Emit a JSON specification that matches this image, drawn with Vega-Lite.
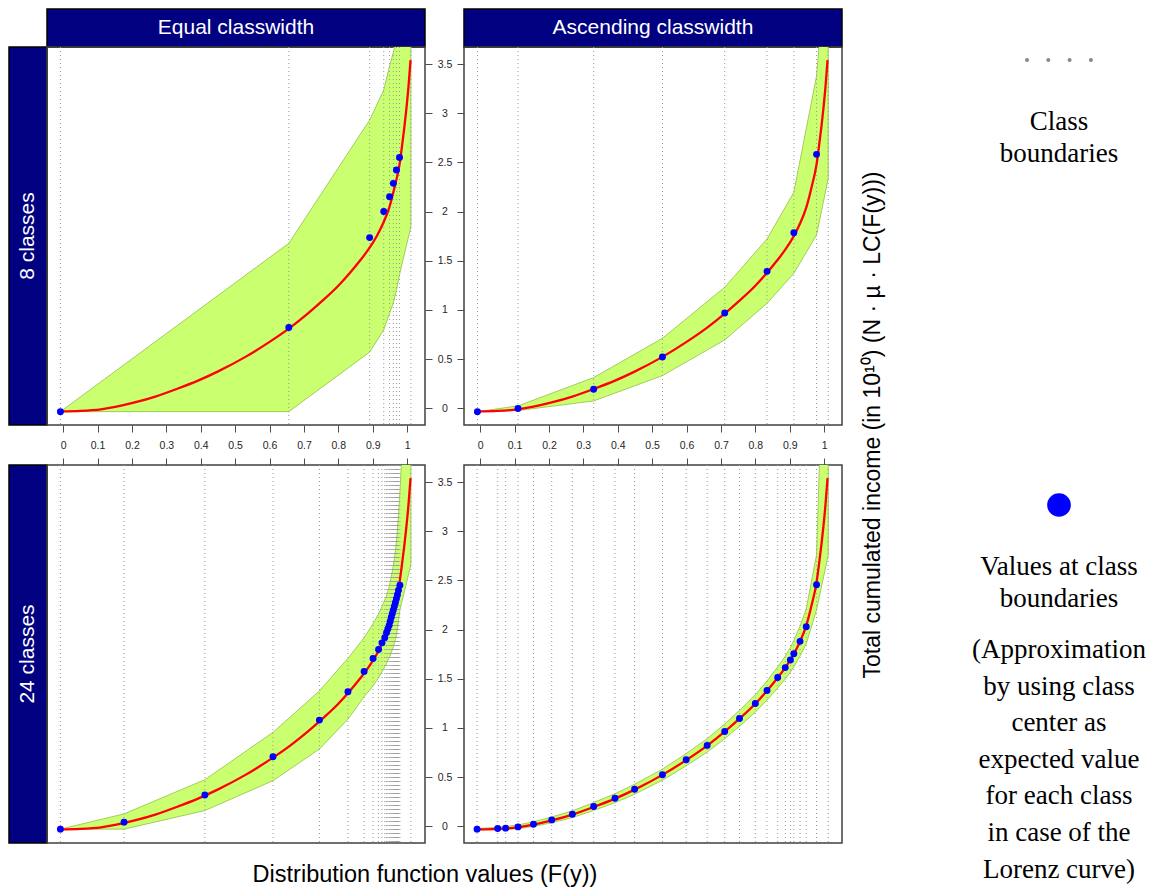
{
"$schema": "https://vega.github.io/schema/vega-lite/v6.json",
"background": "white",
"padding": {"left": 8, "top": 8, "right": 0, "bottom": 0},
"columns": 6,
"spacing": 0,
"bounds": "flush",
"config": {"view": {"stroke": null}, "font": "Liberation Sans", "title": {"fontWeight": "normal", "color": "#000000"}},
"datasets": {
"curve": [
{"x":-0.008,"y":-0.033},{"x":0.05,"y":-0.028},{"x":0.11,"y":-0.012},{"x":0.155,"y":0.015},{"x":0.208,"y":0.058},{"x":0.268,"y":0.118},{"x":0.33,"y":0.195},{"x":0.392,"y":0.28},{"x":0.449,"y":0.372},{"x":0.53,"y":0.522},{"x":0.599,"y":0.672},{"x":0.66,"y":0.82},{"x":0.711,"y":0.962},{"x":0.754,"y":1.094},{"x":0.8,"y":1.246},{"x":0.834,"y":1.378},{"x":0.865,"y":1.51},{"x":0.887,"y":1.612},{"x":0.912,"y":1.752},{"x":0.93,"y":1.878},{"x":0.948,"y":2.04},{"x":0.963,"y":2.24},{"x":0.978,"y":2.48},{"x":0.985,"y":2.66},{"x":0.992,"y":2.86},{"x":0.998,"y":3.05},{"x":1.004,"y":3.27},{"x":1.01,"y":3.54}
],
"bounds": [
{"panel":"EQ8","x":-0.008},{"panel":"EQ8","x":0.656},{"panel":"EQ8","x":0.891},{"panel":"EQ8","x":0.932},{"panel":"EQ8","x":0.949},{"panel":"EQ8","x":0.96},{"panel":"EQ8","x":0.969},{"panel":"EQ8","x":0.978},{"panel":"EQ8","x":1.011},
{"panel":"AS8","x":-0.008},{"panel":"AS8","x":0.11},{"panel":"AS8","x":0.33},{"panel":"AS8","x":0.53},{"panel":"AS8","x":0.711},{"panel":"AS8","x":0.834},{"panel":"AS8","x":0.912},{"panel":"AS8","x":0.978},{"panel":"AS8","x":1.012},
{"panel":"EQ24","x":-0.008},{"panel":"EQ24","x":0.177},{"panel":"EQ24","x":0.412},{"panel":"EQ24","x":0.61},{"panel":"EQ24","x":0.745},{"panel":"EQ24","x":0.828},{"panel":"EQ24","x":0.875},{"panel":"EQ24","x":0.901},{"panel":"EQ24","x":0.917},{"panel":"EQ24","x":0.927},{"panel":"EQ24","x":0.935},{"panel":"EQ24","x":0.94},{"panel":"EQ24","x":0.944},{"panel":"EQ24","x":0.948},{"panel":"EQ24","x":0.951},{"panel":"EQ24","x":0.954},{"panel":"EQ24","x":0.957},{"panel":"EQ24","x":0.96},{"panel":"EQ24","x":0.963},{"panel":"EQ24","x":0.966},{"panel":"EQ24","x":0.969},{"panel":"EQ24","x":0.972},{"panel":"EQ24","x":0.975},{"panel":"EQ24","x":0.979},{"panel":"EQ24","x":1.011},
{"panel":"AS24","x":-0.009},{"panel":"AS24","x":0.051},{"panel":"AS24","x":0.074},{"panel":"AS24","x":0.11},{"panel":"AS24","x":0.155},{"panel":"AS24","x":0.208},{"panel":"AS24","x":0.268},{"panel":"AS24","x":0.33},{"panel":"AS24","x":0.392},{"panel":"AS24","x":0.449},{"panel":"AS24","x":0.53},{"panel":"AS24","x":0.599},{"panel":"AS24","x":0.66},{"panel":"AS24","x":0.711},{"panel":"AS24","x":0.754},{"panel":"AS24","x":0.8},{"panel":"AS24","x":0.834},{"panel":"AS24","x":0.865},{"panel":"AS24","x":0.887},{"panel":"AS24","x":0.902},{"panel":"AS24","x":0.912},{"panel":"AS24","x":0.93},{"panel":"AS24","x":0.948},{"panel":"AS24","x":0.978},{"panel":"AS24","x":1.012}
],
"points": [
{"panel":"EQ8","x":-0.008,"y":-0.035},{"panel":"EQ8","x":0.656,"y":0.82},{"panel":"EQ8","x":0.891,"y":1.735},{"panel":"EQ8","x":0.932,"y":2.0},{"panel":"EQ8","x":0.949,"y":2.151},{"panel":"EQ8","x":0.96,"y":2.287},{"panel":"EQ8","x":0.969,"y":2.422},{"panel":"EQ8","x":0.978,"y":2.551},
{"panel":"AS8","x":-0.008,"y":-0.035},{"panel":"AS8","x":0.11,"y":-0.004},{"panel":"AS8","x":0.33,"y":0.193},{"panel":"AS8","x":0.53,"y":0.521},{"panel":"AS8","x":0.711,"y":0.969},{"panel":"AS8","x":0.834,"y":1.392},{"panel":"AS8","x":0.912,"y":1.785},{"panel":"AS8","x":0.978,"y":2.582},
{"panel":"EQ24","x":-0.008,"y":-0.03},{"panel":"EQ24","x":0.177,"y":0.041},{"panel":"EQ24","x":0.412,"y":0.318},{"panel":"EQ24","x":0.61,"y":0.707},{"panel":"EQ24","x":0.745,"y":1.079},{"panel":"EQ24","x":0.828,"y":1.368},{"panel":"EQ24","x":0.875,"y":1.573},{"panel":"EQ24","x":0.901,"y":1.706},{"panel":"EQ24","x":0.917,"y":1.798},{"panel":"EQ24","x":0.927,"y":1.865},{"panel":"EQ24","x":0.935,"y":1.918},{"panel":"EQ24","x":0.94,"y":1.968},{"panel":"EQ24","x":0.944,"y":2.005},{"panel":"EQ24","x":0.948,"y":2.045},{"panel":"EQ24","x":0.951,"y":2.085},{"panel":"EQ24","x":0.954,"y":2.125},{"panel":"EQ24","x":0.957,"y":2.163},{"panel":"EQ24","x":0.96,"y":2.2},{"panel":"EQ24","x":0.963,"y":2.238},{"panel":"EQ24","x":0.966,"y":2.275},{"panel":"EQ24","x":0.969,"y":2.315},{"panel":"EQ24","x":0.972,"y":2.355},{"panel":"EQ24","x":0.975,"y":2.4},{"panel":"EQ24","x":0.979,"y":2.452},
{"panel":"AS24","x":-0.009,"y":-0.03},{"panel":"AS24","x":0.051,"y":-0.024},{"panel":"AS24","x":0.074,"y":-0.02},{"panel":"AS24","x":0.11,"y":-0.007},{"panel":"AS24","x":0.155,"y":0.02},{"panel":"AS24","x":0.208,"y":0.064},{"panel":"AS24","x":0.268,"y":0.122},{"panel":"AS24","x":0.33,"y":0.2},{"panel":"AS24","x":0.392,"y":0.284},{"panel":"AS24","x":0.449,"y":0.375},{"panel":"AS24","x":0.53,"y":0.524},{"panel":"AS24","x":0.599,"y":0.676},{"panel":"AS24","x":0.66,"y":0.822},{"panel":"AS24","x":0.711,"y":0.964},{"panel":"AS24","x":0.754,"y":1.096},{"panel":"AS24","x":0.8,"y":1.248},{"panel":"AS24","x":0.834,"y":1.38},{"panel":"AS24","x":0.865,"y":1.512},{"panel":"AS24","x":0.887,"y":1.613},{"panel":"AS24","x":0.902,"y":1.691},{"panel":"AS24","x":0.912,"y":1.755},{"panel":"AS24","x":0.93,"y":1.88},{"panel":"AS24","x":0.948,"y":2.029},{"panel":"AS24","x":0.978,"y":2.455}
],
"band": [
{"panel":"EQ8","x":-0.008,"lo":-0.035,"hi":-0.035},{"panel":"EQ8","x":0.656,"lo":-0.035,"hi":1.677},{"panel":"EQ8","x":0.891,"lo":0.57,"hi":2.93},{"panel":"EQ8","x":0.932,"lo":0.796,"hi":3.236},{"panel":"EQ8","x":0.949,"lo":0.966,"hi":3.48},{"panel":"EQ8","x":0.96,"lo":1.07,"hi":3.62},{"panel":"EQ8","x":0.969,"lo":1.2,"hi":3.75},{"panel":"EQ8","x":0.978,"lo":1.36,"hi":3.9},{"panel":"EQ8","x":1.011,"lo":1.846,"hi":5.0},
{"panel":"AS8","x":-0.008,"lo":-0.035,"hi":-0.035},{"panel":"AS8","x":0.11,"lo":-0.024,"hi":0.023},{"panel":"AS8","x":0.33,"lo":0.074,"hi":0.311},{"panel":"AS8","x":0.53,"lo":0.332,"hi":0.711},{"panel":"AS8","x":0.711,"lo":0.694,"hi":1.23},{"panel":"AS8","x":0.834,"lo":1.067,"hi":1.721},{"panel":"AS8","x":0.912,"lo":1.372,"hi":2.196},{"panel":"AS8","x":0.978,"lo":1.762,"hi":3.378},{"panel":"AS8","x":1.012,"lo":2.34,"hi":4.8},
{"panel":"EQ24","x":-0.008,"lo":-0.03,"hi":-0.03},{"panel":"EQ24","x":0.177,"lo":-0.03,"hi":0.125},{"panel":"EQ24","x":0.412,"lo":0.159,"hi":0.473},{"panel":"EQ24","x":0.61,"lo":0.463,"hi":0.954},{"panel":"EQ24","x":0.745,"lo":0.785,"hi":1.376},{"panel":"EQ24","x":0.828,"lo":1.089,"hi":1.708},{"panel":"EQ24","x":0.875,"lo":1.316,"hi":1.917},{"panel":"EQ24","x":0.901,"lo":1.427,"hi":2.06},{"panel":"EQ24","x":0.917,"lo":1.51,"hi":2.16},{"panel":"EQ24","x":0.927,"lo":1.57,"hi":2.235},{"panel":"EQ24","x":0.935,"lo":1.62,"hi":2.3},{"panel":"EQ24","x":0.94,"lo":1.655,"hi":2.345},{"panel":"EQ24","x":0.944,"lo":1.685,"hi":2.39},{"panel":"EQ24","x":0.948,"lo":1.715,"hi":2.44},{"panel":"EQ24","x":0.951,"lo":1.74,"hi":2.485},{"panel":"EQ24","x":0.954,"lo":1.765,"hi":2.535},{"panel":"EQ24","x":0.957,"lo":1.795,"hi":2.59},{"panel":"EQ24","x":0.96,"lo":1.825,"hi":2.65},{"panel":"EQ24","x":0.963,"lo":1.86,"hi":2.72},{"panel":"EQ24","x":0.966,"lo":1.9,"hi":2.8},{"panel":"EQ24","x":0.969,"lo":1.95,"hi":2.9},{"panel":"EQ24","x":0.972,"lo":2.01,"hi":3.02},{"panel":"EQ24","x":0.975,"lo":2.09,"hi":3.17},{"panel":"EQ24","x":0.979,"lo":2.2,"hi":3.4},{"panel":"EQ24","x":1.011,"lo":2.66,"hi":5.5},
{"panel":"AS24","x":-0.009,"lo":-0.035,"hi":-0.025},{"panel":"AS24","x":0.051,"lo":-0.036,"hi":-0.01},{"panel":"AS24","x":0.074,"lo":-0.034,"hi":-0.004},{"panel":"AS24","x":0.11,"lo":-0.025,"hi":0.012},{"panel":"AS24","x":0.155,"lo":-0.003,"hi":0.045},{"panel":"AS24","x":0.208,"lo":0.035,"hi":0.093},{"panel":"AS24","x":0.268,"lo":0.088,"hi":0.156},{"panel":"AS24","x":0.33,"lo":0.16,"hi":0.24},{"panel":"AS24","x":0.392,"lo":0.239,"hi":0.33},{"panel":"AS24","x":0.449,"lo":0.325,"hi":0.426},{"panel":"AS24","x":0.53,"lo":0.468,"hi":0.58},{"panel":"AS24","x":0.599,"lo":0.614,"hi":0.738},{"panel":"AS24","x":0.66,"lo":0.754,"hi":0.89},{"panel":"AS24","x":0.711,"lo":0.89,"hi":1.04},{"panel":"AS24","x":0.754,"lo":1.016,"hi":1.178},{"panel":"AS24","x":0.8,"lo":1.16,"hi":1.338},{"panel":"AS24","x":0.834,"lo":1.283,"hi":1.478},{"panel":"AS24","x":0.865,"lo":1.405,"hi":1.62},{"panel":"AS24","x":0.887,"lo":1.497,"hi":1.73},{"panel":"AS24","x":0.902,"lo":1.567,"hi":1.817},{"panel":"AS24","x":0.912,"lo":1.622,"hi":1.89},{"panel":"AS24","x":0.93,"lo":1.73,"hi":2.035},{"panel":"AS24","x":0.948,"lo":1.855,"hi":2.21},{"panel":"AS24","x":0.978,"lo":2.2,"hi":2.76},{"panel":"AS24","x":1.012,"lo":2.76,"hi":6.5}
]
},
"concat": [
{"width": 1, "height": 1, "data": {"values": []}, "mark": "point"},
{"width": 378, "height": 38, "view": {"fill": "#000080", "stroke": "#000000", "strokeWidth": 1.5}, "data": {"values": [{"label": "Equal classwidth"}]}, "mark": {"type": "text", "color": "#ffffff", "fontSize": 21, "font": "Liberation Sans"}, "encoding": {"text": {"field": "label", "type": "nominal"}}},
{"width": 39, "height": 1, "data": {"values": []}, "mark": "point"},
{"width": 378, "height": 38, "view": {"fill": "#000080", "stroke": "#000000", "strokeWidth": 1.5}, "data": {"values": [{"label": "Ascending classwidth"}]}, "mark": {"type": "text", "color": "#ffffff", "fontSize": 21, "font": "Liberation Sans"}, "encoding": {"text": {"field": "label", "type": "nominal"}}},
{"width": 117, "height": 1, "data": {"values": []}, "mark": "point"},
{"width": 1, "height": 1, "data": {"values": []}, "mark": "point"},

{"width": 38, "height": 378, "view": {"fill": "#000080", "stroke": "#000000", "strokeWidth": 1.5}, "data": {"values": [{"label": "8 classes"}]}, "mark": {"type": "text", "color": "#ffffff", "fontSize": 21, "angle": 270, "font": "Liberation Sans"}, "encoding": {"text": {"field": "label", "type": "nominal"}}},
{"width": 378, "height": 378, "view": {"stroke": "#404040", "strokeWidth": 1.5},
 "encoding": {"x": {"field": "x", "type": "quantitative", "scale": {"domain": [-0.047, 1.052], "nice": false, "zero": false}, "axis": {"orient": "bottom", "values": [0,0.1,0.2,0.3,0.4,0.5,0.6,0.7,0.8,0.9,1], "format": "~g", "title": null, "grid": false, "domain": false, "ticks": true, "tickSize": 7, "tickColor": "#4d4d4d", "labels": true, "labelFontSize": 10.5, "labelColor": "#262626", "labelPadding": 13, "labelBaseline": "middle", "labelFlush": false, "labelOverlap": false}}},
 "layer": [
  {"data": {"name": "band"}, "transform": [{"filter": "datum.panel === 'EQ8'"}],
   "mark": {"type": "area", "clip": true, "fill": "#CAFF70", "stroke": "#A2CD5A", "strokeWidth": 1, "opacity": 1},
   "encoding": {
    "y": {"field": "lo", "type": "quantitative", "scale": {"domain": [-0.171, 3.674], "nice": false, "zero": false}, "axis": {"orient": "right", "values": [0,0.5,1,1.5,2,2.5,3,3.5], "format": "~g", "title": null, "grid": false, "domain": false, "ticks": true, "tickSize": 7, "tickColor": "#4d4d4d", "labels": true, "labelFontSize": 10.5, "labelColor": "#262626", "labelPadding": 12.5, "labelAlign": "center", "labelBaseline": "middle", "labelFlush": false, "labelOverlap": false}},
    "y2": {"field": "hi"}}},
  {"data": {"name": "bounds"}, "transform": [{"filter": "datum.panel === 'EQ8'"}],
   "mark": {"type": "rule", "color": "#999999", "strokeWidth": 1, "strokeDash": [1, 3]}},
  {"data": {"name": "curve"},
   "mark": {"type": "line", "color": "#FF0000", "strokeWidth": 2.3, "interpolate": "monotone", "clip": true},
   "encoding": {"y": {"field": "y", "type": "quantitative"}}},
  {"data": {"name": "points"}, "transform": [{"filter": "datum.panel === 'EQ8'"}],
   "mark": {"type": "circle", "color": "#0000FF", "size": 48, "opacity": 1},
   "encoding": {"y": {"field": "y", "type": "quantitative"}}}
 ]},
{"width": 1, "height": 1, "data": {"values": []}, "mark": "point"},
{"width": 378, "height": 378, "view": {"stroke": "#404040", "strokeWidth": 1.5},
 "title": {"text": "Total cumulated income (in 10¹⁰)    (N · µ · LC(F(y)))", "orient": "right", "anchor": "end", "align": "center", "angle": -90, "frame": "group", "baseline": "top", "offset": -3, "fontSize": 23, "font": "Liberation Sans", "fontWeight": "normal", "color": "#000000"},
 "encoding": {"x": {"field": "x", "type": "quantitative", "scale": {"domain": [-0.047, 1.052], "nice": false, "zero": false}, "axis": {"orient": "bottom", "values": [0,0.1,0.2,0.3,0.4,0.5,0.6,0.7,0.8,0.9,1], "format": "~g", "title": null, "grid": false, "domain": false, "ticks": true, "tickSize": 7, "tickColor": "#4d4d4d", "labels": true, "labelFontSize": 10.5, "labelColor": "#262626", "labelPadding": 13, "labelBaseline": "middle", "labelFlush": false, "labelOverlap": false}}},
 "layer": [
  {"data": {"name": "band"}, "transform": [{"filter": "datum.panel === 'AS8'"}],
   "mark": {"type": "area", "clip": true, "fill": "#CAFF70", "stroke": "#A2CD5A", "strokeWidth": 1, "opacity": 1},
   "encoding": {
    "y": {"field": "lo", "type": "quantitative", "scale": {"domain": [-0.171, 3.674], "nice": false, "zero": false}, "axis": {"orient": "left", "values": [0,0.5,1,1.5,2,2.5,3,3.5], "title": null, "grid": false, "domain": false, "ticks": true, "tickSize": 7, "tickColor": "#4d4d4d", "labels": false}},
    "y2": {"field": "hi"}}},
  {"data": {"name": "bounds"}, "transform": [{"filter": "datum.panel === 'AS8'"}],
   "mark": {"type": "rule", "color": "#999999", "strokeWidth": 1, "strokeDash": [1, 3]}},
  {"data": {"name": "curve"},
   "mark": {"type": "line", "color": "#FF0000", "strokeWidth": 2.3, "interpolate": "monotone", "clip": true},
   "encoding": {"y": {"field": "y", "type": "quantitative"}}},
  {"data": {"name": "points"}, "transform": [{"filter": "datum.panel === 'AS8'"}],
   "mark": {"type": "circle", "color": "#0000FF", "size": 48, "opacity": 1},
   "encoding": {"y": {"field": "y", "type": "quantitative"}}}
 ]},
{"width": 1, "height": 1, "data": {"values": []}, "mark": "point"},
{"width": 200, "height": 26, "data": {"values": [{"item": "Class boundaries"}]},
 "mark": {"type": "point", "shape": "stroke", "size": 4096, "filled": false, "stroke": "#888888", "strokeWidth": 4, "strokeCap": "round", "strokeDash": [0.01, 21.3], "opacity": 1},
 "title": {"text": ["Class", "boundaries"], "orient": "bottom", "anchor": "middle", "frame": "group", "baseline": "top", "offset": 36, "font": "Liberation Serif", "fontSize": 27, "lineHeight": 32, "fontWeight": "normal", "color": "#000000"}},

{"width": 1, "height": 40, "data": {"values": []}, "mark": "point"},
{"width": 1, "height": 1, "data": {"values": []}, "mark": "point"},
{"width": 1, "height": 1, "data": {"values": []}, "mark": "point"},
{"width": 1, "height": 1, "data": {"values": []}, "mark": "point"},
{"width": 1, "height": 1, "data": {"values": []}, "mark": "point"},
{"width": 1, "height": 1, "data": {"values": []}, "mark": "point"},

{"width": 38, "height": 378, "view": {"fill": "#000080", "stroke": "#000000", "strokeWidth": 1.5}, "data": {"values": [{"label": "24 classes"}]}, "mark": {"type": "text", "color": "#ffffff", "fontSize": 21, "angle": 270, "font": "Liberation Sans"}, "encoding": {"text": {"field": "label", "type": "nominal"}}},
{"width": 378, "height": 378, "view": {"stroke": "#404040", "strokeWidth": 1.5},
 "title": {"text": "Distribution function values (F(y))", "orient": "bottom", "anchor": "end", "align": "center", "frame": "group", "baseline": "top", "offset": 19, "fontSize": 23.5, "font": "Liberation Sans", "fontWeight": "normal", "color": "#000000"},
 "encoding": {"x": {"field": "x", "type": "quantitative", "scale": {"domain": [-0.047, 1.052], "nice": false, "zero": false}, "axis": {"orient": "top", "values": [0,0.1,0.2,0.3,0.4,0.5,0.6,0.7,0.8,0.9,1], "title": null, "grid": false, "domain": false, "ticks": true, "tickSize": 7, "tickColor": "#4d4d4d", "labels": false}}},
 "layer": [
  {"data": {"name": "band"}, "transform": [{"filter": "datum.panel === 'EQ24'"}],
   "mark": {"type": "area", "clip": true, "fill": "#CAFF70", "stroke": "#A2CD5A", "strokeWidth": 1, "opacity": 1},
   "encoding": {
    "y": {"field": "lo", "type": "quantitative", "scale": {"domain": [-0.171, 3.674], "nice": false, "zero": false}, "axis": {"orient": "right", "values": [0,0.5,1,1.5,2,2.5,3,3.5], "format": "~g", "title": null, "grid": false, "domain": false, "ticks": true, "tickSize": 7, "tickColor": "#4d4d4d", "labels": true, "labelFontSize": 10.5, "labelColor": "#262626", "labelPadding": 12.5, "labelAlign": "center", "labelBaseline": "middle", "labelFlush": false, "labelOverlap": false}},
    "y2": {"field": "hi"}}},
  {"data": {"name": "bounds"}, "transform": [{"filter": "datum.panel === 'EQ24'"}],
   "mark": {"type": "rule", "color": "#999999", "strokeWidth": 1, "strokeDash": [1, 3]}},
  {"data": {"name": "curve"},
   "mark": {"type": "line", "color": "#FF0000", "strokeWidth": 2.3, "interpolate": "monotone", "clip": true},
   "encoding": {"y": {"field": "y", "type": "quantitative"}}},
  {"data": {"name": "points"}, "transform": [{"filter": "datum.panel === 'EQ24'"}],
   "mark": {"type": "circle", "color": "#0000FF", "size": 48, "opacity": 1},
   "encoding": {"y": {"field": "y", "type": "quantitative"}}}
 ]},
{"width": 1, "height": 1, "data": {"values": []}, "mark": "point"},
{"width": 378, "height": 378, "view": {"stroke": "#404040", "strokeWidth": 1.5},
 "encoding": {"x": {"field": "x", "type": "quantitative", "scale": {"domain": [-0.047, 1.052], "nice": false, "zero": false}, "axis": {"orient": "top", "values": [0,0.1,0.2,0.3,0.4,0.5,0.6,0.7,0.8,0.9,1], "title": null, "grid": false, "domain": false, "ticks": true, "tickSize": 7, "tickColor": "#4d4d4d", "labels": false}}},
 "layer": [
  {"data": {"name": "band"}, "transform": [{"filter": "datum.panel === 'AS24'"}],
   "mark": {"type": "area", "clip": true, "fill": "#CAFF70", "stroke": "#A2CD5A", "strokeWidth": 1, "opacity": 1},
   "encoding": {
    "y": {"field": "lo", "type": "quantitative", "scale": {"domain": [-0.171, 3.674], "nice": false, "zero": false}, "axis": {"orient": "left", "values": [0,0.5,1,1.5,2,2.5,3,3.5], "title": null, "grid": false, "domain": false, "ticks": true, "tickSize": 7, "tickColor": "#4d4d4d", "labels": false}},
    "y2": {"field": "hi"}}},
  {"data": {"name": "bounds"}, "transform": [{"filter": "datum.panel === 'AS24'"}],
   "mark": {"type": "rule", "color": "#999999", "strokeWidth": 1, "strokeDash": [1, 3]}},
  {"data": {"name": "curve"},
   "mark": {"type": "line", "color": "#FF0000", "strokeWidth": 2.3, "interpolate": "monotone", "clip": true},
   "encoding": {"y": {"field": "y", "type": "quantitative"}}},
  {"data": {"name": "points"}, "transform": [{"filter": "datum.panel === 'AS24'"}],
   "mark": {"type": "circle", "color": "#0000FF", "size": 48, "opacity": 1},
   "encoding": {"y": {"field": "y", "type": "quantitative"}}}
 ]},
{"width": 1, "height": 1, "data": {"values": []}, "mark": "point"},
{"width": 200, "height": 80, "data": {"values": [{"item": "Values at class boundaries"}]},
 "mark": {"type": "circle", "color": "#0000FF", "size": 560, "opacity": 1},
 "title": {"text": ["Values at class", "boundaries"], "subtitle": ["(Approximation", "by using class", "center as", "expected value", "for each class", "in case of the", "Lorenz curve)"], "orient": "bottom", "anchor": "middle", "frame": "group", "baseline": "top", "offset": 9, "font": "Liberation Serif", "fontSize": 27, "lineHeight": 32, "fontWeight": "normal", "color": "#000000", "subtitleFont": "Liberation Serif", "subtitleFontSize": 27, "subtitleLineHeight": 36.6, "subtitleColor": "#000000", "subtitlePadding": 24}}
]
}
